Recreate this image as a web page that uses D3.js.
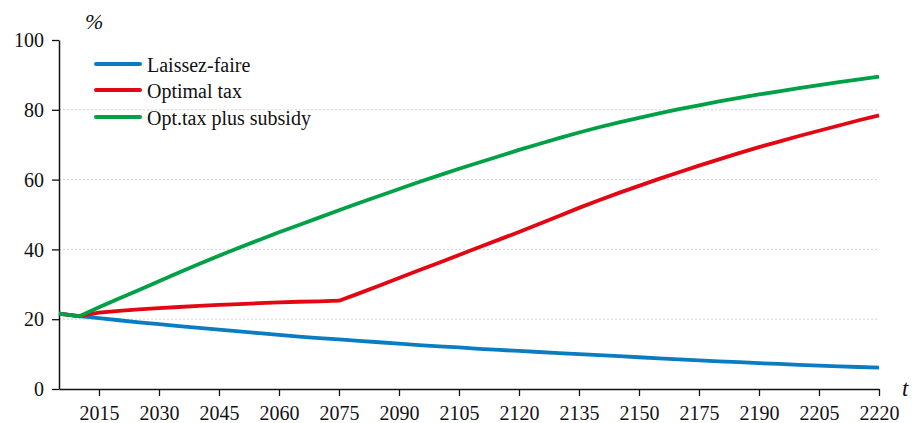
<!DOCTYPE html>
<html>
<head>
<meta charset="utf-8">
<script src="https://cdn.jsdelivr.net/npm/d3@7/dist/d3.min.js"></script>
<style>
  html, body { margin: 0; padding: 0; background: #fff; }
  svg { display: block; }
</style>
</head>
<body>
<script>
const SERIF = "Liberation Serif, DejaVu Serif, Times New Roman, serif";

// Model periods (5 years each), starting in 2005
const periods = d3.range(42);

// Share in percent, per scenario, one value per period
const laissezFaire = [
  21.6, 20.9, 20.3, 19.7, 19.1, 18.6, 18.0, 17.5, 17.0, 16.5,
  16.0, 15.5, 15.0, 14.6, 14.2, 13.8, 13.4, 13.0, 12.6, 12.2,
  11.9, 11.5, 11.2, 10.9, 10.6, 10.3, 10.0, 9.7, 9.4, 9.1,
  8.8, 8.5, 8.2, 7.9, 7.7, 7.4, 7.2, 6.9, 6.7, 6.5,
  6.3, 6.1
];
const optimalTax = [
  21.6, 20.9, 21.9, 22.4, 22.8, 23.2, 23.5, 23.8, 24.1, 24.3,
  24.6, 24.8, 25.0, 25.1, 25.3, 27.4, 29.6, 31.8, 34.0, 36.2,
  38.4, 40.6, 42.8, 45.0, 47.3, 49.6, 51.9, 54.1, 56.2, 58.2,
  60.2, 62.1, 64.0, 65.8, 67.6, 69.3, 70.9, 72.5, 74.0, 75.5,
  77.0, 78.4
];
const optTaxSubsidy = [
  21.6, 20.8, 23.4, 25.9, 28.4, 30.9, 33.4, 35.8, 38.2, 40.5,
  42.7, 44.9, 47.0, 49.1, 51.2, 53.3, 55.3, 57.3, 59.3, 61.2,
  63.1, 64.9, 66.7, 68.5, 70.2, 71.9, 73.5, 75.0, 76.4, 77.7,
  79.0, 80.2, 81.3, 82.4, 83.4, 84.4, 85.3, 86.2, 87.1, 87.9,
  88.7, 89.5
];

const seriesNames = ["Laissez-faire", "Optimal tax", "Opt.tax plus subsidy"];
const seriesColors = ["#0a7cc1", "#e30613", "#00a146"];

// Time-axis labels, one every third period starting at period 2
const xTickPeriods = [2, 5, 8, 11, 14, 17, 20, 23, 26, 29, 32, 35, 38, 41];
const xTickLabels = ["2015", "2030", "2045", "2060", "2075", "2090", "2105", "2120", "2135", "2150", "2175", "2190", "2205", "2220"];
const yTicks = [0, 20, 40, 60, 80, 100];
const yGrid = [20, 40, 60, 80];

const W = 912, H = 423;
const margin = { left: 59, right: 33, top: 40, bottom: 34 };

const svg = d3.select("body").append("svg").attr("width", W).attr("height", H)
  .style("font-family", SERIF);

const x = d3.scaleLinear().domain([0, 41]).range([margin.left, W - margin.right]);
const y = d3.scaleLinear().domain([0, 100]).range([H - margin.bottom, margin.top]);

// horizontal grid
svg.append("g").selectAll("line").data(yGrid).join("line")
  .attr("x1", margin.left).attr("x2", W - margin.right)
  .attr("y1", d => y(d)).attr("y2", d => y(d))
  .attr("stroke", "#c8c8c8").attr("stroke-width", 0.8)
  .attr("stroke-dasharray", "2,2");

// axes
const xAxis = d3.axisBottom(x)
  .tickValues(xTickPeriods)
  .tickFormat((d, i) => xTickLabels[i])
  .tickSize(7).tickSizeOuter(0);
const gx = svg.append("g").attr("transform", `translate(0,${y(0)})`).call(xAxis);
gx.attr("font-family", null).style("font-family", SERIF);
gx.select(".domain").attr("stroke", "#111").attr("stroke-width", 1.5);
gx.selectAll(".tick line").attr("stroke", "#111").attr("stroke-width", 1.3);
gx.selectAll(".tick text").attr("font-size", 20).attr("dy", "1.05em").attr("fill", "#111");

const yAxis = d3.axisLeft(y).tickValues(yTicks).tickSize(7).tickSizeOuter(0);
const gy = svg.append("g").attr("transform", `translate(${margin.left},0)`).call(yAxis);
gy.attr("font-family", null).style("font-family", SERIF);
gy.select(".domain").attr("stroke", "#111").attr("stroke-width", 1.5);
gy.selectAll(".tick line").attr("stroke", "#111").attr("stroke-width", 1.3);
gy.selectAll(".tick text").attr("font-size", 20).attr("x", -15).attr("dy", "0.33em").attr("fill", "#111");

// axis titles
svg.append("text").attr("x", 85).attr("y", 29).attr("font-size", 22)
  .attr("font-style", "italic").attr("fill", "#111").text("%");
svg.append("text").attr("x", 902).attr("y", 396).attr("font-size", 23)
  .attr("font-style", "italic").attr("fill", "#111").text("t");

// scenario lines
const allSeries = [laissezFaire, optimalTax, optTaxSubsidy];
const line = d3.line().x((d, i) => x(periods[i])).y(d => y(d));
svg.append("g").selectAll("path").data(allSeries).join("path")
  .attr("d", d => line(d))
  .attr("fill", "none")
  .attr("stroke", (d, i) => seriesColors[i])
  .attr("stroke-width", 3.8)
  .attr("stroke-linejoin", "round");

// legend
const legend = svg.append("g");
const legendY = [64, 90, 117];
seriesNames.forEach((name, i) => {
  legend.append("line")
    .attr("x1", 96).attr("x2", 140)
    .attr("y1", legendY[i]).attr("y2", legendY[i])
    .attr("stroke", seriesColors[i]).attr("stroke-width", 4)
    .attr("stroke-linecap", "round");
  legend.append("text")
    .attr("x", 147).attr("y", legendY[i] + 8)
    .attr("font-size", 20).attr("fill", "#111").text(name);
});
</script>
</body>
</html>
